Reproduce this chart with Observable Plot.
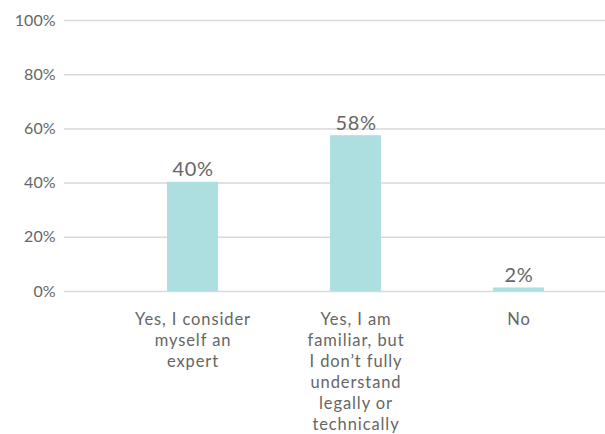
<!DOCTYPE html>
<html>
<head>
<meta charset="utf-8">
<script src="https://cdn.jsdelivr.net/npm/d3@7"></script>
<script src="https://cdn.jsdelivr.net/npm/@observablehq/plot@0.6"></script>
<style>
  html, body { margin: 0; padding: 0; background: #fff; }
  #chart { width: 605px; height: 434px; }
  .xlab text { letter-spacing: 0.9px; }
  .vlab text { letter-spacing: 0.6px; }
</style>
</head>
<body>
<div id="chart"></div>
<script>
const categories = [
  "Yes, I consider myself an expert",
  "Yes, I am familiar, but I don’t fully understand legally or technically",
  "No"
];
const tickLabels = [
  "Yes, I consider\nmyself an\nexpert",
  "Yes, I am\nfamiliar, but\nI don’t fully\nunderstand\nlegally or\ntechnically",
  "No"
];
const values = [40.3, 57.5, 1.3];
const valueLabels = ["40%", "58%", "2%"];
const yTicks = [0, 20, 40, 60, 80, 100];

const data = categories.map((c, i) => ({cat: c, value: values[i], label: valueLabels[i]}));
const wrapped = Object.fromEntries(categories.map((c, i) => [c, tickLabels[i]]));

const chart = Plot.plot({
  width: 605,
  height: 434,
  marginLeft: 64,
  marginRight: 0,
  marginTop: 20,
  marginBottom: 143,
  style: {fontFamily: "Lato, 'Open Sans', sans-serif", color: "#666", background: "#fff"},
  x: {domain: categories, range: [111, 600], paddingInner: 0.687, paddingOuter: 0.3435, align: 0.5, label: null},
  y: {domain: [0, 100], label: null},
  marks: [
    Plot.gridY(yTicks, {stroke: "#d9d9d9", strokeOpacity: 1, strokeWidth: 1.5}),
    Plot.axisY(yTicks, {tickSize: 0, tickPadding: 9, tickFormat: d => d + "%", fontSize: 16, label: null, fill: "#666"}),
    Plot.barY(data, {x: "cat", y: "value", fill: "#aedfe0"}),
    Plot.text(data, {x: "cat", y: "value", text: "label", dy: -6, lineAnchor: "bottom", fontSize: 20, fill: "#666", className: "vlab"}),
    Plot.axisX({tickSize: 0, tickPadding: 19, tickFormat: d => wrapped[d], lineHeight: 1.27, fontSize: 16.5, label: null, fill: "#666", className: "xlab"})
  ]
});
document.getElementById("chart").appendChild(chart);
</script>
</body>
</html>
